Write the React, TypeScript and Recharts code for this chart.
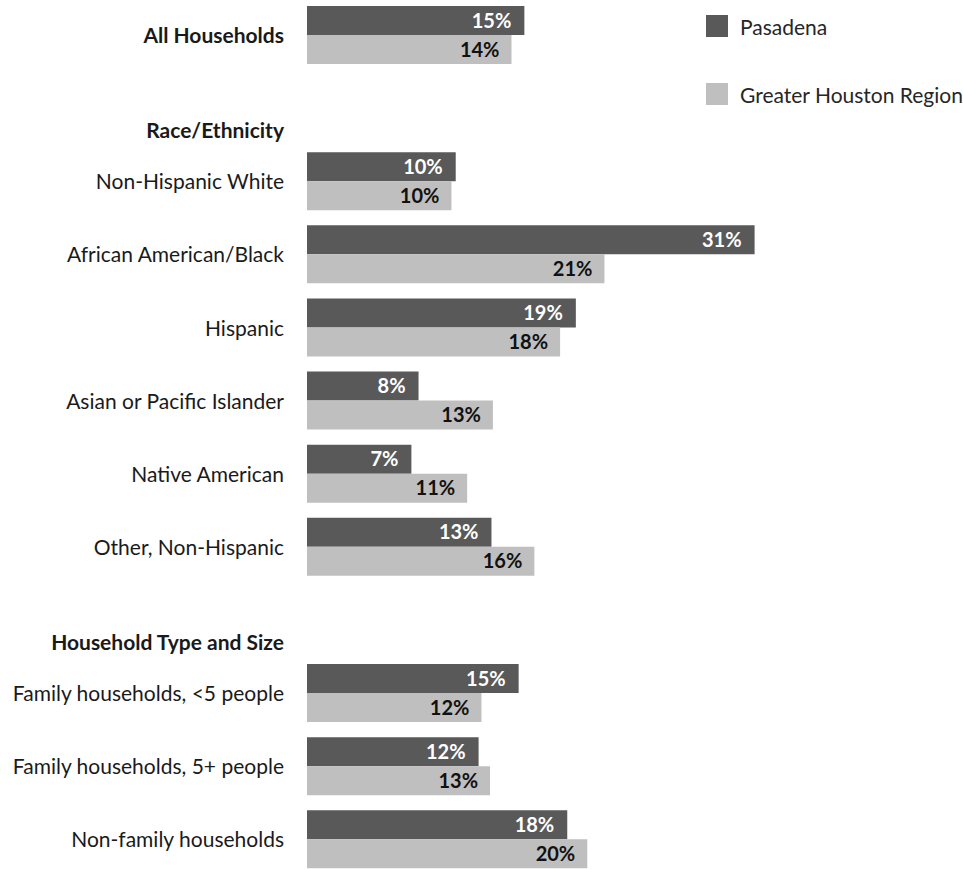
import React from 'react';
import { BarChart, Bar, XAxis, YAxis, LabelList } from 'recharts';

const categories = [
  'All Households',
  'Race/Ethnicity',
  'Non-Hispanic White',
  'African American/Black',
  'Hispanic',
  'Asian or Pacific Islander',
  'Native American',
  'Other, Non-Hispanic',
  'Household Type and Size',
  'Family households, <5 people',
  'Family households, 5+ people',
  'Non-family households',
];

// section headers carry no bars
const headers = ['Race/Ethnicity', 'Household Type and Size'];
const boldLabels = ['All Households', 'Race/Ethnicity', 'Household Type and Size'];

const pasadena = [15.2, null, 10.4, 31.3, 18.8, 7.8, 7.3, 12.9, null, 14.8, 12.0, 18.2];
const houston = [14.3, null, 10.1, 20.8, 17.7, 13.0, 11.2, 15.9, null, 12.2, 12.8, 19.6];

const seriesNames = ['Pasadena', 'Greater Houston Region'];
const colors = ['#595959', '#bfbfbf'];

const data = categories.map((name, i) => ({
  name,
  pasadena: pasadena[i],
  houston: houston[i],
}));

const FONT = 'Lato, "Open Sans", sans-serif';

const CategoryTick = (props: any) => {
  const { x, y, payload } = props;
  const isHeader = headers.includes(payload.value);
  const isBold = boldLabels.includes(payload.value);
  return (
    <text
      x={x}
      y={y + (isHeader ? 22 : 0)}
      textAnchor="end"
      dominantBaseline="central"
      fontFamily={FONT}
      fontSize={21}
      fontWeight={isBold ? 700 : 400}
      fill="#1a1a1a"
    >
      {payload.value}
    </text>
  );
};

const fmt = (v: any) => (v == null ? '' : `${Math.round(v)}%`);

export default function App() {
  return (
    <div style={{ position: 'absolute', top: -2, left: 0, width: 963, height: 880 }}>
      <BarChart
        width={963}
        height={880}
        data={data}
        layout="vertical"
        margin={{ top: 0, right: 84, bottom: 2.6, left: 0 }}
        barGap={0}
        barSize={29}
      >
        <XAxis type="number" domain={[0, 40]} hide />
        <YAxis
          type="category"
          dataKey="name"
          width={307}
          tickSize={0}
          tickMargin={23}
          axisLine={false}
          tickLine={false}
          interval={0}
          tick={<CategoryTick />}
        />
        <Bar dataKey="pasadena" name={seriesNames[0]} fill={colors[0]} isAnimationActive={false}>
          <LabelList
            dataKey="pasadena"
            position="insideRight"
            offset={13}
            formatter={fmt}
            fill="#ffffff"
            fontFamily={FONT}
            fontSize={20}
            fontWeight={700}
          />
        </Bar>
        <Bar dataKey="houston" name={seriesNames[1]} fill={colors[1]} isAnimationActive={false}>
          <LabelList
            dataKey="houston"
            position="insideRight"
            offset={12}
            formatter={fmt}
            fill="#111111"
            fontFamily={FONT}
            fontSize={20}
            fontWeight={700}
          />
        </Bar>
      </BarChart>
      <div style={{ position: 'absolute', left: 706, top: 17, fontFamily: FONT, fontSize: 21, color: '#262626' }}>
        {seriesNames.map((n, i) => (
          <div key={n} style={{ display: 'flex', alignItems: 'center', height: 22, marginBottom: i === 0 ? 46 : 0 }}>
            <span style={{ width: 22, height: 22, background: colors[i], display: 'inline-block', marginRight: 12 }} />
            <span style={{ whiteSpace: 'nowrap' }}>{n}</span>
          </div>
        ))}
      </div>
    </div>
  );
}
